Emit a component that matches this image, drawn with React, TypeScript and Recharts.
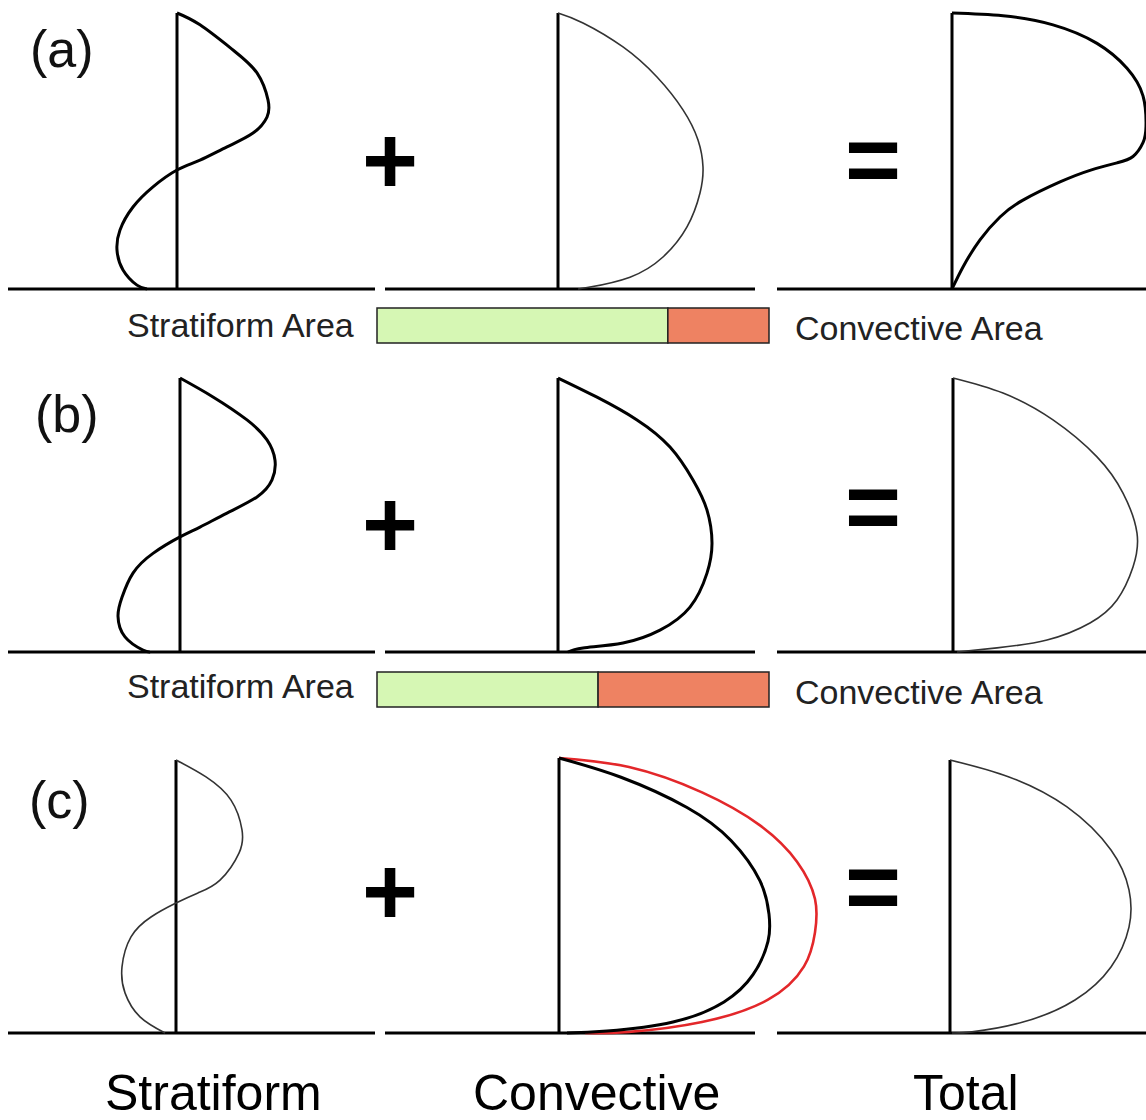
import React from 'react';
import { LineChart, Line, XAxis, YAxis, ReferenceLine, BarChart, Bar } from 'recharts';

// heating profiles: h = height (0 baseline .. 1 top), q = heating (arbitrary units)
const stratA = [
  { h: 1, q: 0 }, { h: 0.957, q: 0.23 }, { h: 0.866, q: 0.56 }, { h: 0.783, q: 0.8 },
  { h: 0.685, q: 0.91 }, { h: 0.623, q: 0.9 }, { h: 0.565, q: 0.76 }, { h: 0.515, q: 0.5 },
  { h: 0.467, q: 0.23 }, { h: 0.431, q: 0 }, { h: 0.37, q: -0.24 }, { h: 0.297, q: -0.44 },
  { h: 0.214, q: -0.57 }, { h: 0.141, q: -0.6 }, { h: 0.069, q: -0.54 }, { h: 0.014, q: -0.4 },
  { h: 0, q: -0.3 },
];
const convA = [
  { h: 1, q: 0 }, { h: 0.964, q: 0.25 }, { h: 0.877, q: 0.65 }, { h: 0.768, q: 0.99 },
  { h: 0.649, q: 1.25 }, { h: 0.54, q: 1.4 }, { h: 0.442, q: 1.45 }, { h: 0.348, q: 1.42 },
  { h: 0.225, q: 1.29 }, { h: 0.116, q: 1.05 }, { h: 0.043, q: 0.72 }, { h: 0.007, q: 0.32 },
  { h: 0, q: 0.2 },
];
const totalA = [
  { h: 1, q: 0 }, { h: 0.99, q: 0.51 }, { h: 0.957, q: 1.01 }, { h: 0.89, q: 1.45 },
  { h: 0.8, q: 1.75 }, { h: 0.7, q: 1.91 }, { h: 0.59, q: 1.94 }, { h: 0.53, q: 1.91 },
  { h: 0.48, q: 1.81 }, { h: 0.457, q: 1.65 }, { h: 0.43, q: 1.38 }, { h: 0.388, q: 1.08 },
  { h: 0.322, q: 0.71 }, { h: 0.261, q: 0.48 }, { h: 0.178, q: 0.28 }, { h: 0.08, q: 0.11 },
  { h: 0, q: 0 },
];

const stratB = [
  { h: 1, q: 0 }, { h: 0.931, q: 0.33 }, { h: 0.847, q: 0.67 }, { h: 0.774, q: 0.87 },
  { h: 0.7, q: 0.95 }, { h: 0.628, q: 0.92 }, { h: 0.566, q: 0.77 }, { h: 0.507, q: 0.47 },
  { h: 0.456, q: 0.2 }, { h: 0.42, q: 0 }, { h: 0.36, q: -0.27 }, { h: 0.288, q: -0.47 },
  { h: 0.2, q: -0.58 }, { h: 0.131, q: -0.62 }, { h: 0.055, q: -0.55 }, { h: 0.007, q: -0.37 },
  { h: 0, q: -0.3 },
];
const convB = [
  { h: 1, q: 0 }, { h: 0.93, q: 0.39 }, { h: 0.847, q: 0.79 }, { h: 0.748, q: 1.12 },
  { h: 0.628, q: 1.35 }, { h: 0.518, q: 1.49 }, { h: 0.398, q: 1.54 }, { h: 0.288, q: 1.49 },
  { h: 0.164, q: 1.32 }, { h: 0.08, q: 1.02 }, { h: 0.033, q: 0.65 }, { h: 0.015, q: 0.25 },
  { h: 0, q: 0.1 },
];
const totalB = [
  { h: 1, q: 0 }, { h: 0.945, q: 0.5 }, { h: 0.847, q: 1.0 }, { h: 0.712, q: 1.44 },
  { h: 0.58, q: 1.7 }, { h: 0.434, q: 1.84 }, { h: 0.31, q: 1.8 }, { h: 0.19, q: 1.64 },
  { h: 0.106, q: 1.37 }, { h: 0.044, q: 0.94 }, { h: 0.015, q: 0.44 }, { h: 0, q: 0.04 },
];

const stratC = [
  { h: 1, q: 0 }, { h: 0.938, q: 0.3 }, { h: 0.853, q: 0.55 }, { h: 0.744, q: 0.66 },
  { h: 0.659, q: 0.63 }, { h: 0.56, q: 0.44 }, { h: 0.513, q: 0.22 }, { h: 0.476, q: 0 },
  { h: 0.425, q: -0.25 }, { h: 0.352, q: -0.45 }, { h: 0.242, q: -0.54 }, { h: 0.147, q: -0.51 },
  { h: 0.059, q: -0.36 }, { h: 0, q: -0.11 },
];
const convC = [
  { h: 1, q: 0 }, { h: 0.93, q: 0.62 }, { h: 0.82, q: 1.28 }, { h: 0.7, q: 1.72 },
  { h: 0.553, q: 2.01 }, { h: 0.432, q: 2.1 }, { h: 0.333, q: 2.09 }, { h: 0.212, q: 1.94 },
  { h: 0.113, q: 1.65 }, { h: 0.04, q: 1.14 }, { h: 0.007, q: 0.48 }, { h: 0, q: 0.08 },
];
const convCRed = [
  { h: 1, q: 0 }, { h: 0.967, q: 0.7 }, { h: 0.875, q: 1.43 }, { h: 0.755, q: 2.01 },
  { h: 0.623, q: 2.38 }, { h: 0.487, q: 2.56 }, { h: 0.366, q: 2.56 }, { h: 0.242, q: 2.45 },
  { h: 0.121, q: 2.09 }, { h: 0.04, q: 1.43 }, { h: 0.004, q: 0.7 }, { h: 0, q: 0.26 },
];
const totalC = [
  { h: 1, q: 0 }, { h: 0.938, q: 0.59 }, { h: 0.828, q: 1.17 }, { h: 0.67, q: 1.61 },
  { h: 0.524, q: 1.79 }, { h: 0.388, q: 1.79 }, { h: 0.242, q: 1.61 }, { h: 0.121, q: 1.25 },
  { h: 0.04, q: 0.73 }, { h: 0.004, q: 0.22 }, { h: 0, q: 0.02 },
];

// stratiform vs convective area fractions for rows (a) and (b)
const areaA = [{ name: 'a', strat: 0.742, conv: 0.258 }];
const areaB = [{ name: 'b', strat: 0.564, conv: 0.436 }];

const rowLabels = ['(a)', '(b)', '(c)'];
const columnLabels = ['Stratiform', 'Convective', 'Total'];

const M = 10;
const PX = 100; // px per heating unit
const EXTRA = 100; // room for curves that run past a panel's baseline
const COLS = [[8, 375], [385, 755], [777, 1146]];
const THICK = { color: '#000', width: 3 };
const THIN = { color: '#333', width: 1.6 };
const RED = { color: '#e3272a', width: 2.6 };

type Series = { data: { h: number; q: number }[]; color: string; width: number };

const Panel = ({ col, axisX, top, base, series }: { col: number; axisX: number; top: number; base: number; series: Series[] }) => {
  const [x0, x1] = COLS[col];
  const qMin = (x0 - axisX) / PX;
  const qEnd = (x1 - axisX) / PX;
  const qMax = (x1 + EXTRA - axisX) / PX;
  return (
    <div style={{ position: 'absolute', left: x0 - M, top: top - M }}>
      <LineChart layout="vertical" width={x1 + EXTRA - x0 + 2 * M} height={base - top + 2 * M} margin={{ top: M, right: M, bottom: M, left: M }}>
        <XAxis type="number" domain={[qMin, qMax]} hide />
        <YAxis type="number" dataKey="h" domain={[0, 1]} hide reversed />
        <ReferenceLine x={0} stroke="#000" strokeWidth={3} />
        <ReferenceLine segment={[{ x: qMin, y: 0 }, { x: qEnd, y: 0 }]} stroke="#000" strokeWidth={3} />
        {series.map((s, i) => (
          <Line key={i} data={s.data} dataKey="q" type="natural" stroke={s.color} strokeWidth={s.width}
            dot={false} activeDot={false} isAnimationActive={false} />
        ))}
      </LineChart>
    </div>
  );
};

const AreaBar = ({ data, top }: { data: typeof areaA; top: number }) => (
  <div style={{ position: 'absolute', left: 377 - M, top: top - M }}>
    <BarChart layout="vertical" data={data} width={392 + 2 * M} height={35 + 2 * M} margin={{ top: M, right: M, bottom: M, left: M }} barCategoryGap={0}>
      <XAxis type="number" domain={[0, 1]} hide />
      <YAxis type="category" dataKey="name" hide />
      <Bar dataKey="strat" stackId="s" fill="#d6f7b4" stroke="#222" strokeWidth={1.5} isAnimationActive={false} />
      <Bar dataKey="conv" stackId="s" fill="#ee8262" stroke="#222" strokeWidth={1.5} isAnimationActive={false} />
    </BarChart>
  </div>
);

const FONT = '"Liberation Sans", Arial, Helvetica, sans-serif';

export default function App() {
  return (
    <div style={{ position: 'absolute', left: 0, top: 0, width: 1146, height: 1120, overflow: 'hidden', background: '#fff' }}>
      <Panel col={0} axisX={177} top={13} base={289} series={[{ data: stratA, ...THICK }]} />
      <Panel col={1} axisX={558} top={13} base={289} series={[{ data: convA, ...THIN }]} />
      <Panel col={2} axisX={952} top={13} base={289} series={[{ data: totalA, ...THICK }]} />
      <AreaBar data={areaA} top={308} />

      <Panel col={0} axisX={180} top={378} base={652} series={[{ data: stratB, ...THICK }]} />
      <Panel col={1} axisX={558} top={378} base={652} series={[{ data: convB, ...THICK }]} />
      <Panel col={2} axisX={953} top={378} base={652} series={[{ data: totalB, ...THIN }]} />
      <AreaBar data={areaB} top={672} />

      <Panel col={0} axisX={176} top={760} base={1033} series={[{ data: stratC, ...THIN }]} />
      <Panel col={1} axisX={559} top={758} base={1033} series={[{ data: convCRed, ...RED }, { data: convC, ...THICK }]} />
      <Panel col={2} axisX={950} top={760} base={1033} series={[{ data: totalC, ...THIN }]} />

      <svg width={1146} height={1120} style={{ position: 'absolute', left: 0, top: 0, pointerEvents: 'none' }} fontFamily={FONT}>
        <text x={30} y={67} fontSize={52} fill="#111">{rowLabels[0]}</text>
        <text x={35} y={432} fontSize={52} fill="#111">{rowLabels[1]}</text>
        <text x={29} y={818} fontSize={52} fill="#111">{rowLabels[2]}</text>

        {[162, 526, 893].map((cy, i) => (
          <text key={'p' + i} x={390} y={cy + 32} fontSize={96} fontWeight="bold" textAnchor="middle" fill="#000">+</text>
        ))}
        {[161, 508, 888].map((cy, i) => (
          <text key={'e' + i} x={873} y={cy + 32} fontSize={96} fontWeight="bold" textAnchor="middle" fill="#000">=</text>
        ))}

        <text x={127} y={337} fontSize={34} fill="#222">Stratiform Area</text>
        <text x={795} y={340} fontSize={34} fill="#222">Convective Area</text>
        <text x={127} y={698} fontSize={34} fill="#222">Stratiform Area</text>
        <text x={795} y={704} fontSize={34} fill="#222">Convective Area</text>

        <text x={105} y={1110} fontSize={50} fill="#000">{columnLabels[0]}</text>
        <text x={473} y={1110} fontSize={50} fill="#000">{columnLabels[1]}</text>
        <text x={913} y={1110} fontSize={50} fill="#000">{columnLabels[2]}</text>
      </svg>
    </div>
  );
}
